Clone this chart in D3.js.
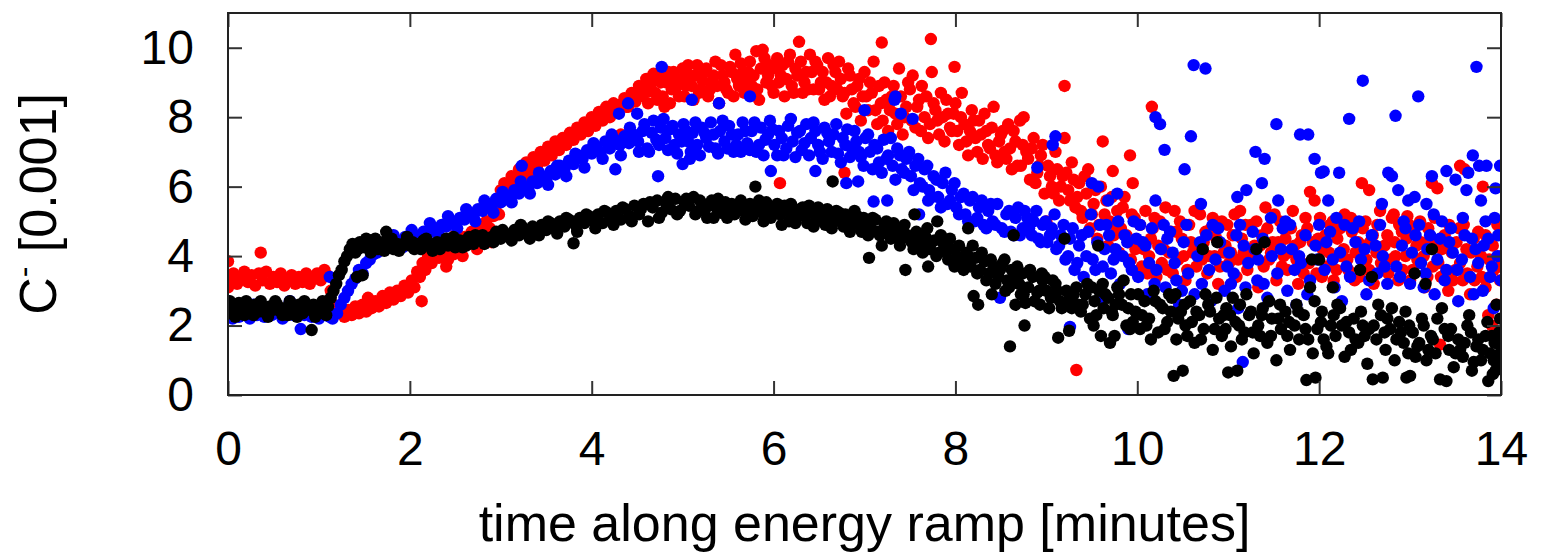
<!DOCTYPE html>
<html>
<head>
<meta charset="utf-8">
<script src="https://cdn.jsdelivr.net/npm/d3@7"></script>
<style>
  body { margin: 0; background: #fff; }
  svg text { font-family: "Liberation Sans", Arial, Helvetica, sans-serif; fill: #000; }
</style>
</head>
<body>
<svg id="chart"></svg>
<script>
var width = 1542,
    height = 554;

var xTicks = [0, 2, 4, 6, 8, 10, 12, 14];
var yTicks = [0, 2, 4, 6, 8, 10];
var xTitle = "time along energy ramp [minutes]";

// [time, value]
var redPts = [[0,3.85],[0,3.1],[0.03,3.3],[0.06,3.5],[0.1,3.2],[0.14,3.4],[0.18,3.55],[0.22,3.25],[0.26,3.45],[0.3,3.15],[0.34,3.5],[0.36,4.1],[0.38,3.3],[0.42,3.55],[0.46,3.2],[0.5,3.4],[0.54,3.25],[0.58,3.5],[0.62,3.15],[0.66,3.35],[0.7,3.45],[0.74,3.2],[0.78,3.4],[0.82,3.25],[0.86,3.5],[0.9,3.2],[0.94,3.35],[0.98,3.5],[1.02,3.3],[1.06,3.6],[1.09,3.45],
  [1.13,3.0],[1.16,2.6],[1.2,2.35],[1.24,2.5],[1.28,2.25],[1.32,2.45],[1.36,2.3],[1.4,2.55],[1.44,2.35],[1.48,2.6],[1.52,2.4],[1.54,2.8],[1.58,2.5],[1.62,2.7],[1.66,2.55],[1.7,2.85],[1.74,2.65],[1.78,2.95],[1.82,2.75],[1.86,3.0],[1.9,2.85],[1.94,3.15],[1.98,2.95],[2.02,3.3],[2.05,3.1],[2.08,3.55],[2.11,3.4],[2.13,2.7],[2.14,3.8],[2.17,3.6],[2.2,4.0],[2.24,3.8],[2.28,4.2],[2.32,3.95],[2.36,4.1],[2.4,3.7],[2.44,4.3],[2.48,4.05],[2.52,4.4],[2.56,4.2],[2.6,4.55],[2.64,4.35],[2.68,4.7],[2.72,4.5],[2.76,4.85],[2.8,4.6],[2.84,5.0],[2.88,4.8],[2.92,5.15],[2.96,5.5],
  [2.34,4.4],[2.42,3.9],[2.5,4.6],[2.58,4.0],[2.66,4.5],[2.74,4.2],[2.82,4.8],[2.9,4.4],[2.98,5.2],
  [3.0,5.9],[3.04,6.1],[3.08,5.7],[3.12,6.3],[3.16,6.0],[3.2,6.5],[3.24,6.2],[3.28,6.7],[3.32,6.4],[3.36,6.85],[3.4,6.6],[3.44,7.0],[3.48,6.75],[3.52,7.15],[3.56,6.9],[3.6,7.3],[3.64,7.05],[3.68,7.4],[3.72,7.2],[3.76,7.55],[3.8,7.35],[3.84,7.7],[3.88,7.5],[3.92,7.85],[3.96,7.6],[4.0,8.0],[4.04,7.75],[4.08,8.15],[4.12,7.9],[4.16,8.3],[4.2,8.0],[4.24,8.4],[4.28,8.15],[4.32,7.5],[4.36,8.55],[4.4,8.3],[4.44,8.7],[4.48,8.45],[4.52,8.9],[4.56,8.6],[4.6,9.1],[4.64,8.75],[4.68,9.25],[4.72,8.5],[4.76,9.0],[4.8,8.3],[4.84,9.3],[4.88,8.8],[4.92,9.1],[4.96,8.6],
  [3.02,5.6],[3.1,6.0],[3.18,6.3],[3.26,6.4],[3.34,6.6],[3.42,6.8],[3.5,6.9],[3.58,7.1],[3.66,7.2],[3.74,7.3],[3.82,7.5],[3.9,7.65],[3.98,7.8],[4.06,7.95],[4.14,8.1],[4.22,8.2],[4.3,8.35],[4.38,8.3],[4.46,8.5],[4.54,8.7],
  [4.58,8.8],[4.62,8.4],[4.66,9.0],[4.7,8.7],[4.74,9.2],[4.78,8.6],[4.82,9.0],[4.86,8.4],[4.9,9.3],[4.94,8.9],[4.98,9.1],
  [5.0,9.4],[5.04,8.9],[5.08,9.2],[5.12,8.5],[5.16,9.5],[5.2,8.8],[5.24,9.3],[5.28,8.6],[5.32,9.0],[5.36,9.6],[5.4,8.4],[5.44,9.2],[5.48,8.8],[5.52,9.45],[5.56,8.6],[5.6,9.1],[5.64,9.55],[5.68,8.7],[5.72,9.3],[5.76,8.9],[5.81,9.9],[5.84,8.5],[5.88,9.94],[5.92,9.0],[5.96,9.5],[6.0,8.7],[6.04,9.7],[6.07,6.1],[6.08,9.2],[6.12,8.6],[6.16,9.6],[6.2,8.9],[6.24,9.4],[6.28,10.17],[6.32,8.7],[6.36,9.3],[6.4,9.8],[6.44,8.8],[6.48,9.5],[6.52,9.0],[6.56,8.5],[6.6,9.7],[6.64,8.9],[6.68,9.3],[6.72,9.6],[6.76,8.6],[6.78,6.4],[6.8,8.1],[6.84,9.2],[6.88,8.4],[6.92,8.9],[6.96,7.9],
  [5.02,8.6],[5.06,9.5],[5.1,8.9],[5.14,9.2],[5.18,8.7],[5.22,9.05],[5.26,9.4],[5.3,8.8],[5.34,9.2],[5.38,8.9],[5.42,9.5],[5.46,9.0],[5.5,8.7],[5.54,9.3],[5.58,9.8],[5.62,8.9],[5.66,9.3],[5.7,9.0],[5.74,9.6],[5.78,9.2],[5.82,8.8],[5.86,9.4],[5.9,9.7],[5.94,9.2],[5.98,8.9],[6.02,9.4],[6.06,9.0],[6.1,9.5],[6.14,9.1],[6.18,9.8],[6.22,8.7],[6.26,9.2],[6.3,9.6],[6.34,9.0],[6.38,8.8],[6.42,9.3],[6.46,9.6],[6.5,8.8],[6.54,9.3],[6.58,9.0],[6.62,8.6],[6.66,9.5],[6.7,8.8],[6.74,9.1],[6.78,8.7],[6.82,9.4],[6.86,8.8],[6.9,8.3],[6.94,9.1],[6.98,8.6],
  [7.0,9.3],[7.04,8.2],[7.08,8.7],[7.1,9.6],[7.14,7.8],[7.18,8.4],[7.19,10.15],[7.22,9.0],[7.26,7.6],[7.3,8.6],[7.34,8.1],[7.38,9.4],[7.42,7.5],[7.46,8.3],[7.5,8.8],[7.53,9.2],[7.56,7.7],[7.6,8.5],[7.63,8.9],[7.66,8.0],[7.7,7.4],[7.73,10.25],[7.74,9.3],[7.76,8.4],[7.8,7.9],[7.84,8.7],[7.88,7.3],[7.92,8.1],[7.96,7.6],[7.99,9.45],
  [7.02,8.6],[7.06,9.0],[7.12,8.2],[7.16,8.9],[7.2,7.9],[7.24,8.5],[7.28,8.2],[7.32,8.9],[7.36,7.8],[7.4,8.6],[7.44,8.0],[7.48,9.0],[7.52,7.9],[7.58,8.3],[7.62,7.6],[7.68,8.6],[7.72,7.8],[7.78,8.2],[7.82,7.5],[7.86,8.0],[7.9,8.5],[7.94,7.7],[7.98,8.1],
  [8.0,8.4],[8.04,7.2],[8.07,8.7],[8.1,7.8],[8.14,6.9],[8.18,8.2],[8.22,7.4],[8.26,7.9],[8.3,6.8],[8.34,7.6],[8.38,7.1],[8.42,8.3],[8.46,6.7],[8.5,7.5],[8.54,7.0],[8.58,7.8],[8.62,6.5],[8.66,7.3],[8.71,7.9],[8.72,6.6],[8.75,8.0],[8.78,7.0],[8.82,6.2],[8.86,7.4],[8.9,6.4],[8.94,6.9],[8.98,5.8],
  [8.02,7.6],[8.06,8.0],[8.12,7.3],[8.16,7.6],[8.2,7.9],[8.24,7.0],[8.28,7.5],[8.32,8.1],[8.36,7.2],[8.4,7.7],[8.44,6.9],[8.48,7.3],[8.52,7.6],[8.56,6.8],[8.6,7.1],[8.64,7.6],[8.68,6.6],[8.74,7.2],[8.8,6.8],[8.84,7.1],[8.88,6.1],[8.92,6.6],[8.96,7.2],
  [9.0,5.0],[9.02,6.6],[9.06,6.0],[9.1,7.0],[9.14,5.6],[9.18,6.3],[9.2,8.9],[9.2,7.4],[9.24,5.9],[9.28,6.7],[9.32,5.4],[9.33,0.72],[9.36,6.1],[9.4,5.1],[9.44,5.8],[9.46,6.5],[9.48,4.8],[9.52,5.5],[9.56,4.5],[9.6,6.0],[9.62,7.3],[9.64,5.2],[9.68,4.3],[9.72,5.7],[9.73,6.45],[9.76,4.9],[9.8,4.1],[9.84,5.4],[9.88,4.6],[9.92,6.9],[9.93,3.9],[9.95,6.1],[9.97,5.1],
  [9.04,6.3],[9.08,5.8],[9.12,6.5],[9.16,6.0],[9.22,6.4],[9.26,5.6],[9.3,6.2],[9.34,5.7],[9.38,5.3],[9.42,6.3],[9.5,5.2],[9.54,5.9],[9.58,4.9],[9.66,5.6],[9.7,5.0],[9.74,4.6],[9.78,5.3],[9.82,4.8],[9.86,5.7],[9.9,4.4],[9.94,5.2],[9.98,4.2],
  [10.01,4.4],[10.05,3.7],[10.09,5.3],[10.13,4.0],[10.16,8.3],[10.17,4.8],[10.21,3.4],[10.25,5.0],[10.29,4.2],[10.33,3.6],[10.37,4.7],[10.41,5.3],[10.45,3.9],[10.49,4.5],[10.53,3.3],[10.57,4.9],[10.61,4.1],[10.65,3.7],[10.69,5.2],[10.73,4.4],[10.77,3.5],[10.81,4.8],[10.85,4.0],[10.89,3.2],[10.93,5.0],[10.97,4.3],[11.01,3.8],[11.05,4.6],[11.09,3.4],[11.13,5.3],[11.17,4.1],[11.21,3.6],[11.25,4.9],[11.29,4.3],[11.33,3.1],[11.37,4.6],[11.41,5.4],[11.45,3.9],[11.49,4.4],[11.53,3.3],[11.57,5.0],[11.61,4.0],[11.65,3.6],[11.69,4.8],[11.73,4.3],[11.77,3.2],[11.81,4.6],[11.85,5.1],[11.9,5.85],[11.89,3.8],[11.95,5.6],[11.93,4.4],[11.97,3.5],
  [10.03,4.9],[10.07,4.2],[10.11,3.5],[10.15,4.5],[10.19,5.1],[10.23,4.3],[10.27,3.8],[10.31,5.4],[10.35,4.1],[10.39,3.5],[10.43,4.7],[10.47,5.0],[10.51,4.0],[10.55,3.6],[10.59,4.4],[10.63,5.3],[10.67,4.2],[10.71,3.9],[10.75,4.7],[10.79,4.0],[10.83,5.1],[10.87,4.5],[10.91,3.7],[10.95,4.1],[10.99,4.9],[11.03,4.1],[11.07,5.2],[11.11,3.9],[11.15,4.5],[11.19,4.9],[11.23,3.9],[11.27,4.1],[11.31,5.0],[11.35,4.3],[11.39,3.7],[11.43,4.8],[11.47,4.1],[11.51,5.2],[11.55,4.4],[11.59,3.7],[11.63,4.5],[11.67,4.1],[11.71,5.3],[11.75,3.9],[11.79,4.4],[11.83,3.5],[11.87,4.8],[11.99,4.5],
  [12.01,5.1],[12.04,4.2],[12.08,3.7],[12.12,4.9],[12.16,3.3],[12.2,4.5],[12.24,4.0],[12.28,5.2],[12.32,3.6],[12.36,4.7],[12.4,4.1],[12.44,3.4],[12.47,6.1],[12.48,4.8],[12.52,3.9],[12.55,5.9],[12.56,4.4],[12.6,3.2],[12.64,4.9],[12.68,3.8],[12.72,4.3],[12.76,3.5],[12.8,5.1],[12.82,5.2],[12.84,4.0],[12.88,4.9],[12.92,3.6],[12.96,4.5],[12.97,5.15],
  [12.03,3.4],[12.07,4.6],[12.11,4.1],[12.15,5.0],[12.19,3.6],[12.23,4.8],[12.27,4.2],[12.31,3.9],[12.35,5.1],[12.39,3.3],[12.43,4.4],[12.51,5.0],[12.55,3.6],[12.59,4.6],[12.63,4.1],[12.67,5.3],[12.71,3.7],[12.75,4.6],[12.79,3.9],[12.83,4.4],[12.87,3.3],[12.91,4.7],[12.95,4.0],[12.99,4.9],
  [13.0,3.3],[13.04,4.7],[13.08,3.9],[13.12,4.4],[13.16,3.1],[13.2,4.8],[13.24,6.1],[13.25,3.7],[13.3,5.95],[13.29,4.3],[13.33,1.45],[13.34,3.4],[13.38,4.6],[13.42,3.0],[13.46,4.1],[13.5,3.6],[13.55,6.6],[13.54,4.8],[13.58,3.3],[13.6,6.5],[13.62,4.2],[13.66,2.9],[13.7,4.5],[13.74,3.7],[13.78,4.0],[13.8,6.0],[13.83,3.1],[13.86,2.3],[13.88,4.4],[13.9,2.0],[13.92,3.6],[13.96,4.9],[13.99,3.3],[14.0,4.0],
  [13.03,3.6],[13.07,4.3],[13.11,5.0],[13.15,4.0],[13.19,3.4],[13.23,4.5],[13.27,5.1],[13.31,3.8],[13.35,4.2],[13.39,3.5],[13.43,4.9],[13.47,3.3],[13.51,4.4],[13.55,3.8],[13.59,4.9],[13.63,3.5],[13.67,4.1],[13.71,3.3],[13.75,4.7],[13.79,3.4],[13.83,4.6],[13.87,3.9],[13.91,4.3],[13.95,2.6],[13.98,3.7]];

var bluePts = [[0,2.7],[0.02,2.3],[0.05,2.2],[0.08,2.45],[0.12,2.25],[0.16,2.5],[0.2,2.35],[0.24,2.2],[0.28,2.6],[0.32,2.3],[0.36,2.45],[0.4,2.25],[0.44,2.5],[0.48,2.3],[0.52,2.6],[0.56,2.35],[0.6,2.2],[0.64,2.5],[0.68,2.7],[0.72,2.3],[0.76,2.45],[0.8,1.9],[0.84,2.3],[0.88,2.55],[0.92,2.25],[0.96,2.4],[1.0,2.2],[1.04,2.5],[1.08,2.3],[1.12,3.4],[1.12,2.25],
  [1.15,2.2],[1.2,2.35],[1.24,2.6],[1.28,2.8],[1.32,3.0],[1.36,3.2],[1.4,3.35],[1.44,3.6],[1.48,3.5],[1.52,3.8],[1.56,3.9],[1.6,4.05],[1.64,4.1],[1.68,4.25],[1.72,4.2],[1.76,4.35],[1.8,4.3],[1.85,4.45],[1.9,4.4],[1.95,4.55],[2.0,4.5],[2.05,4.6],[2.1,4.55],[2.15,4.7],[2.2,4.65],[2.25,4.8],[2.3,4.75],[2.35,4.9],[2.4,4.85],[2.45,5.0],[2.5,4.95],[2.55,5.1],[2.6,5.05],[2.65,5.2],[2.7,5.15],[2.75,5.35],[2.8,5.3],[2.85,5.5],[2.9,5.45],[2.95,5.65],
  [1.82,4.6],[1.92,4.25],[2.02,4.75],[2.12,4.4],[2.22,4.95],[2.32,4.6],[2.42,5.15],[2.52,4.8],[2.62,5.35],[2.72,5.0],[2.82,5.6],[2.92,5.25],
  [3.0,5.55],[3.05,5.75],[3.1,5.7],[3.15,5.9],[3.2,5.8],[3.23,6.6],[3.25,6.0],[3.3,5.95],[3.35,6.15],[3.4,6.1],[3.45,6.3],[3.5,6.2],[3.55,6.45],[3.6,6.35],[3.65,6.6],[3.7,6.5],[3.75,6.75],[3.8,6.65],[3.85,6.9],[3.9,6.8],[3.95,7.05],[4.0,6.95],[4.05,7.15],[4.1,7.0],[4.15,7.3],[4.2,7.1],[4.26,6.5],[4.25,7.35],[4.3,8.1],[4.31,7.2],[4.36,7.45],[4.4,8.4],[4.41,7.25],[4.46,7.5],[4.5,8.1],[4.51,7.3],[4.56,7.6],[4.61,7.1],[4.66,7.55],[4.71,7.35],[4.73,6.3],[4.76,7.7],[4.77,9.45],[4.81,7.4],[4.86,7.65],[4.91,7.2],[4.96,7.5],
  [3.02,5.85],[3.12,5.55],[3.22,6.15],[3.32,5.8],[3.42,6.4],[3.52,6.05],[3.62,6.6],[3.72,6.3],[3.82,6.95],[3.92,6.55],[4.02,7.25],[4.12,6.8],[4.22,7.5],[4.32,6.9],[4.42,7.7],[4.52,7.0],
  [4.58,7.8],[4.63,7.0],[4.68,7.9],[4.74,7.2],[4.79,7.95],[4.84,7.05],[4.89,7.75],[4.94,6.95],[4.99,7.3],
  [5.0,6.65],[5.01,7.8],[5.06,7.3],[5.08,6.8],[5.1,8.5],[5.11,7.55],[5.16,7.2],[5.21,7.7],[5.26,7.4],[5.31,7.85],[5.36,7.1],[5.4,8.4],[5.41,7.6],[5.46,7.3],[5.51,7.75],[5.56,7.0],[5.61,7.5],[5.66,7.85],[5.71,7.25],[5.74,8.6],[5.76,7.6],[5.81,7.0],[5.86,7.7],[5.91,7.35],[5.96,7.9],[5.97,6.45],[6.01,7.2],[6.06,7.6],[6.11,6.9],[6.16,7.75],[6.21,7.3],[6.26,7.55],[6.31,7.05],[6.36,7.8],[6.41,7.4],[6.46,6.45],[6.46,7.6],[6.51,7.0],[6.56,7.7],[6.61,7.3],[6.66,7.5],[6.71,6.95],[6.76,7.4],[6.8,6.1],[6.81,7.65],[6.86,7.1],[6.91,7.3],[6.93,6.15],[6.96,6.85],
  [5.04,7.6],[5.09,7.0],[5.14,7.85],[5.19,6.9],[5.24,7.55],[5.29,7.15],[5.34,7.5],[5.39,6.95],[5.44,7.9],[5.49,7.1],[5.54,7.5],[5.59,7.2],[5.64,7.0],[5.69,7.6],[5.74,7.05],[5.79,7.85],[5.84,7.2],[5.89,6.9],[5.94,7.5],[5.99,7.65],[6.04,6.9],[6.09,7.4],[6.14,7.1],[6.19,7.95],[6.24,6.85],[6.29,7.6],[6.34,7.25],[6.39,6.9],[6.44,7.85],[6.49,7.2],[6.54,6.8],[6.59,7.55],[6.64,7.0],[6.69,7.8],[6.74,6.7],[6.79,7.2],[6.84,6.85],[6.89,7.6],[6.94,7.0],[6.99,6.6],
  [7.0,8.2],[7.01,7.4],[7.06,7.0],[7.1,5.57],[7.11,7.2],[7.16,6.7],[7.21,7.35],[7.25,5.6],[7.26,6.9],[7.31,6.6],[7.33,8.5],[7.34,8.6],[7.36,7.1],[7.4,8.1],[7.41,6.5],[7.46,6.8],[7.51,6.3],[7.53,7.95],[7.56,6.6],[7.6,5.2],[7.61,6.1],[7.66,6.5],[7.7,5.6],[7.71,5.9],[7.76,6.3],[7.81,5.7],[7.86,6.1],[7.91,5.5],[7.96,5.9],[7.98,3.8],
  [7.04,7.5],[7.09,6.5],[7.14,7.1],[7.19,6.4],[7.24,6.8],[7.29,7.4],[7.34,6.2],[7.39,6.9],[7.44,6.4],[7.49,7.0],[7.54,5.9],[7.59,6.8],[7.64,6.0],[7.69,6.6],[7.74,5.7],[7.79,6.2],[7.84,5.4],[7.89,6.4],[7.94,5.6],[7.99,6.1],
  [8.01,5.4],[8.06,5.7],[8.11,5.2],[8.16,5.6],[8.21,5.0],[8.26,5.4],[8.31,4.9],[8.36,5.3],[8.41,5.0],[8.46,5.5],[8.49,2.8],[8.51,4.8],[8.56,5.2],[8.61,4.7],[8.66,5.1],[8.71,4.6],[8.76,5.3],[8.81,4.8],[8.86,5.0],[8.9,6.55],[8.91,4.5],[8.96,4.9],
  [8.04,5.2],[8.09,5.8],[8.14,5.0],[8.19,5.7],[8.24,5.1],[8.29,5.6],[8.34,4.8],[8.39,5.5],[8.44,4.9],[8.54,4.7],[8.59,5.3],[8.64,4.6],[8.69,5.4],[8.74,4.8],[8.79,5.1],[8.84,4.6],[8.89,5.3],[8.94,4.4],[8.99,5.0],
  [9.01,4.4],[9.06,4.8],[9.07,7.2],[9.1,7.45],[9.11,4.2],[9.16,4.6],[9.21,3.9],[9.26,1.96],[9.26,4.5],[9.31,3.6],[9.36,4.3],[9.41,3.4],[9.46,4.7],[9.5,6.1],[9.51,3.9],[9.56,4.4],[9.57,6.0],[9.61,2.8],[9.62,3.7],[9.66,4.9],[9.68,5.6],[9.71,3.5],[9.76,4.2],[9.78,5.8],[9.81,3.2],[9.86,4.6],[9.9,1.9],[9.91,3.8],[9.96,5.0],
  [9.04,4.6],[9.09,5.2],[9.14,4.3],[9.19,4.9],[9.24,4.0],[9.29,4.8],[9.34,3.8],[9.39,4.6],[9.44,4.0],[9.49,5.2],[9.54,3.6],[9.59,4.9],[9.64,4.2],[9.69,4.6],[9.74,3.9],[9.79,5.0],[9.84,4.0],[9.89,4.4],[9.94,3.6],[9.99,4.5],
  [10.01,3.4],[10.03,4.9],[10.06,4.4],[10.11,2.9],[10.13,3.8],[10.16,4.8],[10.2,8.0],[10.2,5.6],[10.21,3.6],[10.25,7.8],[10.26,4.2],[10.3,7.06],[10.31,3.1],[10.33,4.5],[10.36,4.7],[10.41,3.8],[10.43,3.3],[10.46,2.6],[10.51,4.4],[10.52,6.5],[10.56,3.5],[10.59,7.45],[10.62,9.5],[10.63,2.9],[10.66,4.0],[10.7,5.5],[10.71,3.2],[10.75,9.4],[10.76,4.6],[10.81,2.7],[10.83,4.9],[10.86,3.9],[10.91,4.4],[10.96,3.0],
  [10.09,4.3],[10.19,3.2],[10.29,4.9],[10.39,4.1],[10.49,3.0],[10.54,4.9],[10.69,4.4],[10.79,3.6],[10.89,4.8],[10.99,3.7],
  [11.01,4.1],[11.03,3.2],[11.06,3.5],[11.1,5.7],[11.11,2.5],[11.13,4.9],[11.16,0.95],[11.17,4.3],[11.2,5.9],[11.22,3.8],[11.27,4.7],[11.3,7.0],[11.32,3.3],[11.33,3.9],[11.37,6.1],[11.38,4.5],[11.4,6.8],[11.43,2.8],[11.48,4.0],[11.53,7.8],[11.54,3.5],[11.55,5.6],[11.6,4.8],[11.63,5.0],[11.65,3.0],[11.7,4.2],[11.73,3.6],[11.75,2.6],[11.79,7.5],[11.8,3.8],[11.85,4.6],[11.88,7.5],[11.9,3.3],[11.95,6.8],[11.96,4.3],
  [11.09,4.6],[11.19,3.1],[11.29,4.2],[11.39,3.2],[11.47,5.1],[11.58,4.2],[11.68,4.9],[11.78,4.0],[11.87,2.9],[11.98,3.9],
  [12.0,4.9],[12.02,6.4],[12.05,6.44],[12.06,3.6],[12.1,5.6],[12.12,4.7],[12.15,3.9],[12.17,3.1],[12.22,6.4],[12.23,4.1],[12.25,2.7],[12.28,4.9],[12.33,7.95],[12.34,3.4],[12.4,4.4],[12.44,5.0],[12.46,3.9],[12.48,9.05],[12.52,2.9],[12.58,4.6],[12.62,4.3],[12.64,3.5],[12.69,5.5],[12.7,4.0],[12.75,3.2],[12.76,6.4],[12.8,6.3],[12.84,8.04],[12.85,3.7],[12.87,5.9],[12.91,4.3],[12.95,4.8],[12.98,5.6],
  [12.08,4.4],[12.19,5.1],[12.3,3.7],[12.37,4.8],[12.5,4.2],[12.55,3.3],[12.67,4.9],[12.72,3.7],[12.89,3.4],[12.93,5.0],
  [13.0,3.2],[13.05,5.7],[13.06,4.6],[13.09,8.6],[13.12,3.8],[13.15,3.1],[13.18,5.5],[13.19,4.2],[13.24,6.3],[13.26,5.2],[13.27,2.9],[13.3,3.9],[13.33,4.5],[13.4,6.45],[13.4,3.6],[13.45,4.8],[13.47,4.1],[13.5,6.2],[13.53,2.7],[13.57,3.9],[13.6,4.6],[13.62,5.9],[13.64,6.4],[13.66,3.4],[13.69,6.9],[13.7,2.9],[13.72,4.2],[13.73,9.45],[13.76,6.6],[13.78,5.6],[13.8,3.0],[13.83,5.0],[13.84,6.6],[13.86,4.5],[13.9,3.7],[13.92,2.5],[13.94,5.95],[13.96,4.0],[13.99,6.6],[14.0,3.3],
  [13.02,4.1],[13.1,4.9],[13.17,3.5],[13.22,4.6],[13.35,5.0],[13.38,3.3],[13.43,4.4],[13.52,3.6],[13.58,5.1],[13.68,4.5],[13.75,3.8],[13.81,4.3],[13.88,3.4],[13.97,4.6],[13.93,5.1]];

var blackPts = [[0,2.5],[0.03,2.35],[0.06,2.6],[0.1,2.4],[0.14,2.55],[0.18,2.3],[0.22,2.5],[0.26,2.45],[0.3,2.6],[0.34,2.4],[0.38,2.5],[0.42,2.35],[0.46,2.55],[0.5,2.45],[0.54,2.6],[0.58,2.4],[0.62,2.5],[0.66,2.3],[0.7,2.55],[0.74,2.45],[0.78,2.6],[0.82,2.35],[0.86,2.5],[0.9,2.45],[0.92,1.87],[0.94,2.6],[0.98,2.4],[1.02,2.5],[1.06,2.35],[1.1,2.55],
  [0.02,2.7],[0.08,2.25],[0.12,2.65],[0.2,2.7],[0.28,2.3],[0.36,2.7],[0.44,2.25],[0.52,2.7],[0.6,2.3],[0.68,2.7],[0.76,2.25],[0.84,2.7],[0.96,2.25],[1.04,2.7],[1.08,2.3],
  [1.13,2.8],[1.16,3.0],[1.19,3.2],[1.22,3.45],[1.25,3.6],[1.28,3.85],[1.31,4.0],[1.34,4.2],[1.37,4.35],[1.4,4.1],[1.42,3.4],[1.45,4.4],[1.48,3.45],[1.5,4.25],[1.55,4.45],[1.6,4.3],[1.65,4.2],[1.7,4.4],[1.74,4.7],[1.78,4.3],[1.82,4.2],[1.86,4.35],[1.9,4.25],[1.95,4.4],[2.0,4.3],[2.05,4.2],[2.1,4.35],[2.15,4.45],[2.2,4.3],[2.25,4.15],[2.3,4.4],[2.35,4.3],[2.4,4.5],[2.45,4.35],[2.5,4.25],[2.55,4.45],[2.6,4.4],[2.65,4.55],[2.7,4.35],[2.75,4.5],[2.8,4.6],[2.85,4.45],[2.9,4.55],[2.95,4.7],
  [1.43,4.2],[1.52,4.5],[1.57,4.1],[1.62,4.5],[1.67,4.35],[1.72,4.15],[1.8,4.5],[1.88,4.15],[1.97,4.55],[2.03,4.4],[2.12,4.2],[2.18,4.5],[2.27,4.35],[2.33,4.2],[2.42,4.3],[2.48,4.55],[2.58,4.25],
  [3.0,4.5],[3.05,4.65],[3.1,4.55],[3.15,4.75],[3.2,4.6],[3.25,4.8],[3.3,4.65],[3.35,4.85],[3.4,4.7],[3.45,4.9],[3.5,4.75],[3.55,4.95],[3.6,4.8],[3.65,5.0],[3.7,4.85],[3.75,5.05],[3.8,4.37],[3.82,4.9],[3.87,5.1],[3.92,4.95],[3.97,5.15],[4.02,5.0],[4.07,5.2],[4.12,4.95],[4.17,5.25],[4.22,5.1],[4.27,5.3],[4.32,5.05],[4.37,5.35],[4.42,5.15],[4.47,5.45],[4.52,5.2],[4.57,5.5],[4.62,5.0],[4.67,5.4],[4.72,5.6],[4.77,5.25],[4.82,5.5],[4.87,5.35],[4.92,5.65],[4.97,5.3],
  [2.62,4.3],[2.72,4.6],[2.82,4.35],[2.92,4.4],[3.02,4.75],[3.12,4.45],[3.22,4.9],[3.32,4.5],[3.42,4.6],[3.52,5.0],[3.62,4.65],[3.72,5.1],[3.84,4.7],[3.94,5.2],[4.04,4.8],[4.14,5.3],[4.24,4.9],[4.34,5.4],[4.44,5.0],[4.54,5.35],[4.64,5.55],[4.74,5.1],[4.84,5.7],[4.94,5.2],
  [5.02,5.55],[5.07,5.45],[5.12,5.7],[5.17,5.3],[5.22,5.5],[5.27,5.1],[5.32,5.6],[5.37,5.4],[5.42,5.25],[5.47,5.55],[5.52,5.35],[5.57,5.2],[5.62,5.5],[5.67,5.3],[5.72,5.45],[5.77,5.15],[5.8,6.0],[5.82,5.4],[5.87,5.25],[5.92,5.55],[5.97,5.1],[6.02,5.35],[6.07,5.2],[6.12,5.45],[6.17,5.0],[6.22,5.3],[6.27,5.15],[6.32,5.4],[6.37,4.95],[6.42,5.25],[6.47,5.1],[6.52,5.3],[6.57,4.9],[6.62,5.2],[6.65,6.15],[6.67,5.0],[6.72,5.25],[6.77,4.85],[6.82,5.1],[6.87,4.95],[6.92,5.15],[6.97,4.7],
  [5.04,5.65],[5.14,5.2],[5.19,5.6],[5.24,5.3],[5.29,5.45],[5.34,5.1],[5.39,5.65],[5.44,5.4],[5.49,5.1],[5.54,5.5],[5.59,5.35],[5.64,5.6],[5.69,5.05],[5.74,5.5],[5.79,5.3],[5.84,5.6],[5.89,5.0],[5.94,5.4],[5.99,5.25],[6.04,5.5],[6.09,4.9],[6.14,5.3],[6.19,5.5],[6.24,4.95],[6.29,5.35],[6.34,5.15],[6.39,5.45],[6.44,4.85],[6.49,5.4],[6.54,5.0],[6.59,5.35],[6.64,4.8],[6.69,5.3],[6.74,5.0],[6.79,5.2],[6.84,4.7],[6.89,5.3],[6.94,4.9],[6.99,5.1],
  [7.02,5.0],[7.05,3.95],[7.07,4.8],[7.12,5.05],[7.17,4.6],[7.22,4.9],[7.27,4.7],[7.32,4.95],[7.37,4.5],[7.42,4.8],[7.45,3.6],[7.47,4.6],[7.52,4.4],[7.55,5.2],[7.57,4.7],[7.62,4.3],[7.67,4.55],[7.7,3.7],[7.72,4.2],[7.77,4.45],[7.8,5.0],[7.82,4.1],[7.87,4.35],[7.92,3.9],[7.97,4.2],
  [7.04,4.6],[7.09,5.1],[7.14,4.7],[7.19,4.3],[7.24,5.0],[7.29,4.5],[7.34,4.8],[7.39,4.3],[7.44,4.9],[7.49,4.5],[7.54,4.2],[7.59,4.6],[7.64,4.1],[7.69,4.8],[7.74,4.4],[7.79,4.0],[7.84,4.6],[7.89,4.2],[7.94,4.5],[7.99,3.7],
  [8.02,4.0],[8.07,3.8],[8.12,4.1],[8.14,4.8],[8.17,3.7],[8.2,2.85],[8.22,3.95],[8.25,2.6],[8.27,3.6],[8.32,3.85],[8.37,3.5],[8.4,2.9],[8.42,3.7],[8.47,3.4],[8.52,3.8],[8.55,3.0],[8.57,3.3],[8.6,1.4],[8.62,3.6],[8.64,4.6],[8.65,3.4],[8.66,2.6],[8.7,3.2],[8.74,3.5],[8.75,2.9],[8.76,2.0],[8.77,2.65],[8.8,3.1],[8.85,3.4],[8.87,2.7],[8.9,2.95],[8.93,2.6],[8.95,3.5],[8.96,3.3],
  [8.04,4.3],[8.09,3.6],[8.14,4.0],[8.19,4.3],[8.24,3.5],[8.29,4.1],[8.34,3.3],[8.39,3.9],[8.44,3.2],[8.49,3.6],[8.54,3.9],[8.59,3.1],[8.68,3.7],[8.72,2.9],[8.82,3.6],[8.92,3.0],[8.98,3.4],
  [9.0,3.0],[9.05,2.8],[9.07,3.3],[9.1,3.2],[9.13,1.65],[9.15,2.7],[9.17,2.5],[9.2,4.5],[9.22,3.0],[9.25,1.85],[9.26,2.8],[9.28,2.5],[9.33,3.1],[9.35,2.6],[9.38,2.4],[9.43,2.9],[9.45,3.2],[9.48,2.2],[9.53,2.7],[9.55,2.3],[9.57,4.3],[9.58,3.0],[9.6,1.7],[9.63,2.5],[9.65,2.9],[9.68,2.8],[9.7,1.5],[9.73,2.3],[9.75,1.7],[9.76,2.6],[9.78,3.1],[9.83,2.6],[9.85,3.3],[9.88,2.0],[9.93,2.9],[9.95,2.1],[9.98,2.4],
  [9.03,2.5],[9.12,3.0],[9.19,2.6],[9.3,2.9],[9.4,2.6],[9.5,3.1],[9.52,2.0],[9.62,3.2],[9.72,2.4],[9.8,2.9],[9.9,2.5],[9.92,1.9],
  [10.03,1.9],[10.05,2.3],[10.08,2.7],[10.13,2.2],[10.15,1.6],[10.18,3.0],[10.23,1.8],[10.25,2.6],[10.28,2.5],[10.33,2.1],[10.35,2.9],[10.38,2.8],[10.4,0.55],[10.43,1.6],[10.45,2.2],[10.48,2.4],[10.5,0.7],[10.53,2.0],[10.55,1.7],[10.58,2.7],[10.63,1.5],[10.65,2.4],[10.68,2.3],[10.72,4.2],[10.73,1.9],[10.75,2.9],[10.78,2.6],[10.83,1.3],[10.85,1.9],[10.88,4.4],[10.9,2.2],[10.93,1.7],[10.95,2.3],[10.98,2.5],
  [10.01,2.9],[10.1,2.0],[10.2,2.7],[10.3,1.9],[10.37,2.4],[10.42,2.9],[10.52,2.6],[10.6,2.1],[10.7,1.6],[10.8,2.4],[10.87,2.8],[10.97,1.9],
  [11.0,0.65],[11.03,1.4],[11.05,2.8],[11.08,2.1],[11.1,0.7],[11.13,2.6],[11.15,1.6],[11.18,1.8],[11.23,2.3],[11.25,2.4],[11.28,1.2],[11.31,4.2],[11.33,2.0],[11.35,1.7],[11.38,2.5],[11.4,4.4],[11.43,1.5],[11.45,2.7],[11.48,2.2],[11.53,1.0],[11.55,2.2],[11.58,1.9],[11.63,2.4],[11.65,1.7],[11.68,1.3],[11.73,2.0],[11.75,2.6],[11.78,1.6],[11.83,2.3],[11.85,1.9],[11.86,0.43],[11.9,3.1],[11.92,3.9],[11.93,1.2],[11.95,2.7],[11.96,0.5],[11.98,1.9],
  [11.02,2.3],[11.12,2.0],[11.2,2.9],[11.27,1.8],[11.37,2.3],[11.47,1.7],[11.57,2.6],[11.67,2.1],[11.77,2.4],[11.88,1.6],
  [12.0,3.9],[12.03,2.4],[12.05,1.6],[12.08,1.4],[12.13,2.0],[12.15,3.1],[12.16,2.3],[12.18,1.7],[12.23,2.5],[12.25,2.0],[12.28,1.1],[12.33,1.8],[12.35,1.3],[12.38,2.2],[12.43,1.5],[12.45,3.6],[12.46,2.4],[12.48,2.0],[12.53,0.9],[12.55,1.9],[12.58,3.4],[12.59,0.45],[12.63,1.6],[12.65,2.6],[12.68,2.3],[12.7,0.5],[12.73,1.3],[12.75,2.2],[12.78,1.9],[12.83,1.0],[12.85,1.6],[12.88,2.1],[12.93,1.5],[12.95,2.4],[12.96,0.5],[12.98,1.2],
  [12.02,2.1],[12.1,1.2],[12.2,2.6],[12.3,2.1],[12.4,1.6],[12.5,1.7],[12.6,2.0],[12.72,1.8],[12.8,2.5],[12.9,1.8],[12.99,2.0],
  [13.0,0.55],[13.03,1.8],[13.05,3.5],[13.06,1.1],[13.08,1.4],[13.13,2.2],[13.15,2.0],[13.17,3.2],[13.18,1.0],[13.23,1.7],[13.24,4.2],[13.25,1.6],[13.28,1.2],[13.33,0.45],[13.35,2.5],[13.38,1.9],[13.4,0.4],[13.43,1.3],[13.45,1.9],[13.48,0.8],[13.53,1.6],[13.55,1.3],[13.58,1.1],[13.63,2.0],[13.65,2.3],[13.68,0.7],[13.7,0.95],[13.73,1.4],[13.75,1.6],[13.78,1.0],[13.83,1.7],[13.85,2.1],[13.86,0.4],[13.88,1.2],[13.91,0.6],[13.92,1.0],[13.93,1.5],[13.95,2.6],[13.97,0.9],[13.98,1.8],[13.99,1.2],[14.0,1.4],
  [13.1,1.5],[13.2,1.3],[13.3,2.2],[13.42,1.7],[13.5,1.2],[13.6,1.5],[13.67,1.8],[13.8,1.3],[13.9,1.7],[13.94,0.7],[13.99,2.2],[13.96,1.5]];

var series = [
  { name: "red", color: "#ff0000", pts: redPts },
  { name: "blue", color: "#0000ff", pts: bluePts },
  { name: "black", color: "#000000", pts: blackPts }
];

var plotLeft = 228, plotRight = 1501, plotTop = 13, plotBottom = 395;
var tickLen = 14;

var x = d3.scaleLinear().domain([0, 14]).range([plotLeft, plotRight]);
var y = d3.scaleLinear().domain([0, 11]).range([plotBottom, plotTop]);

var svg = d3.select("#chart")
    .attr("width", width)
    .attr("height", height);

svg.append("clipPath").attr("id", "plotclip")
  .append("rect")
    .attr("x", plotLeft).attr("y", plotTop)
    .attr("width", plotRight - plotLeft).attr("height", plotBottom - plotTop);

var plot = svg.append("g").attr("clip-path", "url(#plotclip)");

// red first, black ends up on top
series.forEach(function(s) {
  plot.append("g")
      .attr("class", "series-" + s.name)
      .attr("fill", s.color)
    .selectAll("circle")
    .data(s.pts)
    .enter().append("circle")
      .attr("cx", function(d) { return x(d[0]); })
      .attr("cy", function(d) { return y(d[1]); })
      .attr("r", 6.2);
});

// inward ticks on every side, gnuplot style
svg.append("g")
    .attr("transform", "translate(0," + plotBottom + ")")
    .call(d3.axisBottom(x).tickValues(xTicks).tickSizeInner(-tickLen).tickSizeOuter(0).tickPadding(36))
    .call(styleAxis);

svg.append("g")
    .attr("transform", "translate(0," + plotTop + ")")
    .call(d3.axisTop(x).tickValues(xTicks).tickSizeInner(-tickLen).tickSizeOuter(0).tickFormat(""))
    .call(styleAxis);

svg.append("g")
    .attr("transform", "translate(" + plotLeft + ",0)")
    .call(d3.axisLeft(y).tickValues(yTicks).tickSizeInner(-tickLen).tickSizeOuter(0).tickPadding(34))
    .call(styleAxis);

svg.append("g")
    .attr("transform", "translate(" + plotRight + ",0)")
    .call(d3.axisRight(y).tickValues(yTicks).tickSizeInner(-tickLen).tickSizeOuter(0).tickFormat(""))
    .call(styleAxis);

svg.append("rect")
    .attr("x", plotLeft).attr("y", plotTop)
    .attr("width", plotRight - plotLeft).attr("height", plotBottom - plotTop)
    .attr("fill", "none")
    .attr("stroke", "#222")
    .attr("stroke-width", 2);

function styleAxis(g) {
  g.select(".domain").remove();
  g.selectAll(".tick line").attr("stroke", "#333").attr("stroke-width", 2);
  g.selectAll(".tick text")
      .attr("font-size", 48)
      .attr("font-family", "Liberation Sans, Arial, sans-serif")
      .attr("fill", "#000");
}

// axis titles
svg.append("text")
    .attr("x", (plotLeft + plotRight) / 2)
    .attr("y", 541)
    .attr("text-anchor", "middle")
    .attr("font-size", 52)
    .text(xTitle);

var yTitle = svg.append("text")
    .attr("transform", "translate(56," + (plotTop + plotBottom) / 2 + ") rotate(-90)")
    .attr("text-anchor", "middle")
    .attr("font-size", 52);
yTitle.append("tspan").text("C");
yTitle.append("tspan").attr("font-size", 32).attr("dy", -22).text("-");
yTitle.append("tspan").attr("dy", 22).text(" [0.001]");
</script>
</body>
</html>
